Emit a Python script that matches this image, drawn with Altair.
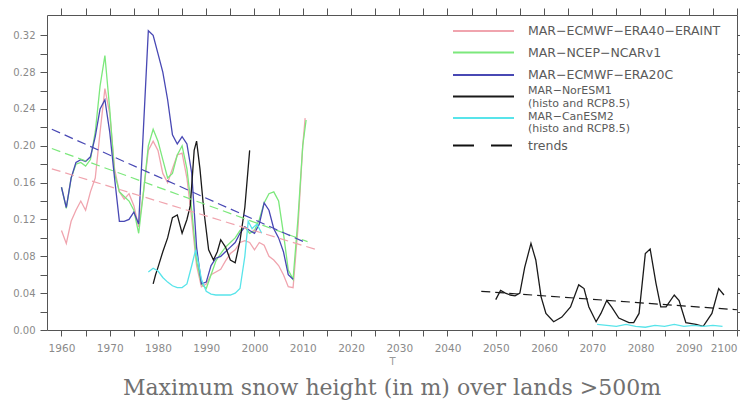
import altair as alt
import pandas as pd

# ---------------- data ----------------
series_names = [
    "MAR−ECMWF−ERA40−ERAINT",
    "MAR−NCEP−NCARv1",
    "MAR−ECMWF−ERA20C",
    "MAR−NorESM1",
    "MAR−CanESM2",
]
series_subtitles = ["", "", "", "(histo and RCP8.5)", "(histo and RCP8.5)"]
series_colors = ["#f0a4ae", "#7ce87c", "#4848b4", "#1a1a1a", "#58e4ea"]
trend_label = "trends"

era40_years = [1960, 1961, 1962, 1963, 1964, 1965, 1966, 1967, 1968, 1969, 1970, 1971, 1972, 1973,
               1974, 1975, 1976, 1977, 1978, 1979, 1980, 1981, 1982, 1983, 1984, 1985, 1986, 1987,
               1988, 1989, 1990, 1991, 1992, 1993, 1994, 1995, 1996, 1997, 1998, 1999, 2000, 2001,
               2002, 2003, 2004, 2005, 2006, 2007, 2008, 2009, 2010, 2010.5]
era40_vals = [0.108, 0.094, 0.118, 0.130, 0.140, 0.130, 0.150, 0.165, 0.215, 0.262, 0.235, 0.175,
              0.150, 0.142, 0.148, 0.135, 0.112, 0.150, 0.195, 0.205, 0.195, 0.170, 0.160, 0.175,
              0.190, 0.192, 0.165, 0.120, 0.070, 0.047, 0.050, 0.060, 0.063, 0.066, 0.075, 0.083,
              0.087, 0.095, 0.097, 0.095, 0.087, 0.095, 0.092, 0.080, 0.076, 0.070, 0.060, 0.047,
              0.046, 0.110, 0.200, 0.230]

ncep_years = [1960, 1961, 1962, 1963, 1964, 1965, 1966, 1967, 1968, 1969, 1970, 1971, 1972, 1973,
              1974, 1975, 1976, 1977, 1978, 1979, 1980, 1981, 1982, 1983, 1984, 1985, 1986, 1987,
              1988, 1989, 1990, 1991, 1992, 1993, 1994, 1995, 1996, 1997, 1998, 1999, 2000, 2001,
              2002, 2003, 2004, 2005, 2006, 2007, 2008, 2009, 2010, 2010.7]
ncep_vals = [0.155, 0.132, 0.165, 0.180, 0.182, 0.178, 0.185, 0.215, 0.265, 0.298, 0.240, 0.170,
             0.150, 0.145, 0.140, 0.130, 0.105, 0.150, 0.200, 0.218, 0.205, 0.185, 0.165, 0.170,
             0.190, 0.200, 0.175, 0.130, 0.075, 0.050, 0.045, 0.060, 0.075, 0.083, 0.090, 0.095,
             0.100, 0.108, 0.112, 0.105, 0.108, 0.120, 0.138, 0.148, 0.150, 0.140, 0.105, 0.065,
             0.055, 0.120, 0.200, 0.228]

era20c_years = [1960, 1961, 1962, 1963, 1964, 1965, 1966, 1967, 1968, 1969, 1970, 1971, 1972, 1973,
                1974, 1975, 1976, 1977, 1978, 1979, 1980, 1981, 1982, 1983, 1984, 1985, 1986, 1987,
                1988, 1989, 1990, 1991, 1992, 1993, 1994, 1995, 1996, 1997, 1998, 1999, 2000, 2001,
                2002, 2003, 2004, 2005, 2006, 2007, 2008]
era20c_vals = [0.155, 0.133, 0.165, 0.182, 0.185, 0.183, 0.188, 0.210, 0.240, 0.250, 0.215, 0.165,
               0.118, 0.118, 0.120, 0.128, 0.115, 0.220, 0.325, 0.320, 0.300, 0.280, 0.250, 0.212,
               0.202, 0.210, 0.202, 0.170, 0.090, 0.050, 0.052, 0.070, 0.078, 0.080, 0.085, 0.090,
               0.095, 0.105, 0.112, 0.108, 0.105, 0.115, 0.138, 0.130, 0.110, 0.100, 0.085, 0.060,
               0.055]

noresm_hist_years = [1979, 1979.5, 1980, 1981, 1982, 1983, 1984, 1985, 1986, 1986.7, 1987.5, 1988,
                     1988.7, 1989.5, 1990.5, 1991.5, 1992.3, 1993, 1994, 1995, 1996, 1997, 1998, 1999]
noresm_hist_vals = [0.050, 0.060, 0.068, 0.085, 0.100, 0.122, 0.125, 0.105, 0.120, 0.135, 0.195,
                    0.205, 0.175, 0.130, 0.087, 0.076, 0.085, 0.098, 0.090, 0.076, 0.073, 0.097,
                    0.133, 0.195]

noresm_proj_years = [2050, 2051, 2052, 2053, 2054, 2055, 2056, 2057.3, 2058.3, 2059.4, 2060.4, 2062,
                     2063.7, 2065.5, 2067.2, 2068.3, 2069.3, 2070.8, 2071.8, 2073, 2074, 2075.5,
                     2077.6, 2078.6, 2079.7, 2081, 2082, 2083.2, 2084.2, 2085.3, 2087, 2088, 2089.4,
                     2091.5, 2093, 2094.8, 2096.2, 2097.3]
noresm_proj_vals = [0.033, 0.043, 0.040, 0.038, 0.037, 0.040, 0.068, 0.094, 0.076, 0.036, 0.018,
                    0.009, 0.014, 0.025, 0.049, 0.045, 0.025, 0.009, 0.018, 0.032, 0.025, 0.013,
                    0.008, 0.008, 0.018, 0.083, 0.088, 0.051, 0.025, 0.025, 0.038, 0.032, 0.008,
                    0.006, 0.004, 0.018, 0.045, 0.038]

canesm_hist_years = [1978, 1979, 1980, 1981, 1982, 1983, 1984, 1985, 1986, 1987, 1987.8, 1988.5,
                     1989, 1990, 1991, 1992, 1993, 1994, 1995, 1996, 1997, 1998, 1998.7, 1999.5,
                     2000.5, 2001.5]
canesm_hist_vals = [0.063, 0.067, 0.064, 0.057, 0.052, 0.048, 0.046, 0.046, 0.050, 0.070, 0.087,
                    0.070, 0.055, 0.042, 0.039, 0.038, 0.038, 0.038, 0.038, 0.040, 0.045, 0.080,
                    0.118, 0.110, 0.115, 0.105]

canesm_proj_years = [2071, 2073, 2075, 2077, 2079, 2081, 2083, 2085, 2087, 2089, 2091, 2093, 2095, 2097]
canesm_proj_vals = [0.006, 0.005, 0.004, 0.006, 0.004, 0.003, 0.005, 0.004, 0.006, 0.004, 0.005,
                    0.004, 0.005, 0.004]

# linear trends (end points)
trend_series = [0, 1, 2, 3]
trend_segs = ["era40", "ncep", "era20c", "noresm_proj"]
trend_x0 = [1958, 1958, 1958, 2047]
trend_x1 = [2013, 2011, 2011, 2100]
trend_y0 = [0.175, 0.197, 0.218, 0.042]
trend_y1 = [0.087, 0.096, 0.094, 0.022]

x_ticks = list(range(1960, 2101, 5))
y_ticks = [round(i * 0.02, 2) for i in range(17)]

# ---------------- tables ----------------
segments = [
    (0, "era40", era40_years, era40_vals),
    (1, "ncep", ncep_years, ncep_vals),
    (2, "era20c", era20c_years, era20c_vals),
    (3, "noresm_hist", noresm_hist_years, noresm_hist_vals),
    (3, "noresm_proj", noresm_proj_years, noresm_proj_vals),
    (4, "canesm_hist", canesm_hist_years, canesm_hist_vals),
    (4, "canesm_proj", canesm_proj_years, canesm_proj_vals),
]
rows = []
for si, seg, yrs, vals in segments:
    for y, v in zip(yrs, vals):
        rows.append({"series": series_names[si], "seg": seg, "year": y, "value": v})
df = pd.DataFrame(rows)

trows = []
for si, seg, x0, x1, y0, y1 in zip(trend_series, trend_segs, trend_x0, trend_x1, trend_y0, trend_y1):
    trows.append({"series": series_names[si], "seg": seg, "year": x0, "value": y0})
    trows.append({"series": series_names[si], "seg": seg, "year": x1, "value": y1})
tdf = pd.DataFrame(trows)

x_scale = alt.Scale(domain=[1957, 2100], nice=False, zero=False)
y_scale = alt.Scale(domain=[0, 0.342], nice=False, zero=False)
color_scale = alt.Scale(domain=series_names, range=series_colors)

lbl_font = "DejaVu Sans"
lbl_color = "#8a8a8a"
tick_color = "#555555"
leg_color = "#5a5a5a"
TREND_DASH = [9, 5]

lines = alt.Chart(df).mark_line(strokeWidth=1.3, clip=True).encode(
    x=alt.X("year:Q", scale=x_scale,
            axis=alt.Axis(orient="bottom", values=x_ticks,
                          labelExpr="datum.value % 10 == 0 ? '' + datum.value : ''",
                          title="T", titleFont=lbl_font, titleFontSize=10, titleColor="#999999",
                          titleFontWeight="normal", titlePadding=3,
                          tickSize=6, labelPadding=7, labelFontSize=10.5)),
    y=alt.Y("value:Q", scale=y_scale,
            axis=alt.Axis(orient="left", values=y_ticks,
                          labelExpr="round(datum.value * 100) % 4 == 0 ? format(datum.value, '.2f') : ''",
                          title=None, tickSize=7, labelPadding=5, labelFontSize=10)),
    color=alt.Color("series:N", scale=color_scale, sort=series_names, legend=None),
    detail="seg:N",
)

trends = alt.Chart(tdf).mark_line(strokeWidth=1.2, clip=True, strokeDash=TREND_DASH).encode(
    x=alt.X("year:Q", scale=x_scale,
            axis=alt.Axis(orient="top", values=x_ticks, labels=False, title=None, tickSize=7)),
    y=alt.Y("value:Q", scale=y_scale,
            axis=alt.Axis(orient="right", values=y_ticks, labels=False, title=None, tickSize=5)),
    color=alt.Color("series:N", scale=color_scale, sort=series_names, legend=None),
    detail="seg:N",
)

# ---------------- hand-built legend (inside the plot, top right) ----------------
LEG_X0, LEG_X1, LEG_TX = 406, 467, 481
row_y = [16, 37.5, 60, 81.5, 103]
name_dy = [0, 0, 0, -6, -1.5]
sub_dy = [0, 0, 0, 7.5, 10.5]
trend_row_y = 130.5
legend_layers = []
for i, name in enumerate(series_names):
    ldf = pd.DataFrame({"series": [name]})
    legend_layers.append(
        alt.Chart(ldf).mark_rule(strokeWidth=2).encode(
            x=alt.value(LEG_X0), x2=alt.value(LEG_X1), y=alt.value(row_y[i]),
            color=alt.Color("series:N", scale=color_scale, sort=series_names, legend=None))
    )
    if series_subtitles[i]:
        texts = [(name, row_y[i] + name_dy[i]), (series_subtitles[i], row_y[i] + sub_dy[i])]
        fsize = 11
    else:
        texts = [(name, row_y[i])]
        fsize = 12.5
    for t, ty in texts:
        legend_layers.append(
            alt.Chart(pd.DataFrame({"t": [t]})).mark_text(
                align="left", baseline="middle", font=lbl_font, fontSize=fsize, color=leg_color
            ).encode(x=alt.value(LEG_TX), y=alt.value(ty), text="t:N")
        )
legend_layers.append(
    alt.Chart(pd.DataFrame({"t": [trend_label]})).mark_rule(
        strokeWidth=2, color="#111111", strokeDash=[21, 17]
    ).encode(x=alt.value(LEG_X0), x2=alt.value(LEG_X1), y=alt.value(trend_row_y))
)
legend_layers.append(
    alt.Chart(pd.DataFrame({"t": [trend_label]})).mark_text(
        align="left", baseline="middle", font=lbl_font, fontSize=12.5, color=leg_color
    ).encode(x=alt.value(LEG_TX), y=alt.value(trend_row_y), text="t:N")
)

chart = alt.layer(lines, trends, *legend_layers).resolve_axis(
    x="independent", y="independent"
).properties(
    width=690,
    height=315,
    autosize="none",
    padding={"left": 39, "top": 7, "right": 3, "bottom": 72},
    background="white",
    title=alt.Title("Maximum snow height (in m) over lands >500m", orient="bottom",
                    anchor="middle", font="DejaVu Serif", fontSize=22, fontWeight="normal",
                    color="#707070", offset=11),
).configure_view(
    stroke=tick_color, strokeWidth=1
).configure_axis(
    domain=False, grid=False, tickColor=tick_color, labelColor=lbl_color, labelFont=lbl_font
)

chart.save("out.html", embed_options={"renderer": "svg", "actions": False})
